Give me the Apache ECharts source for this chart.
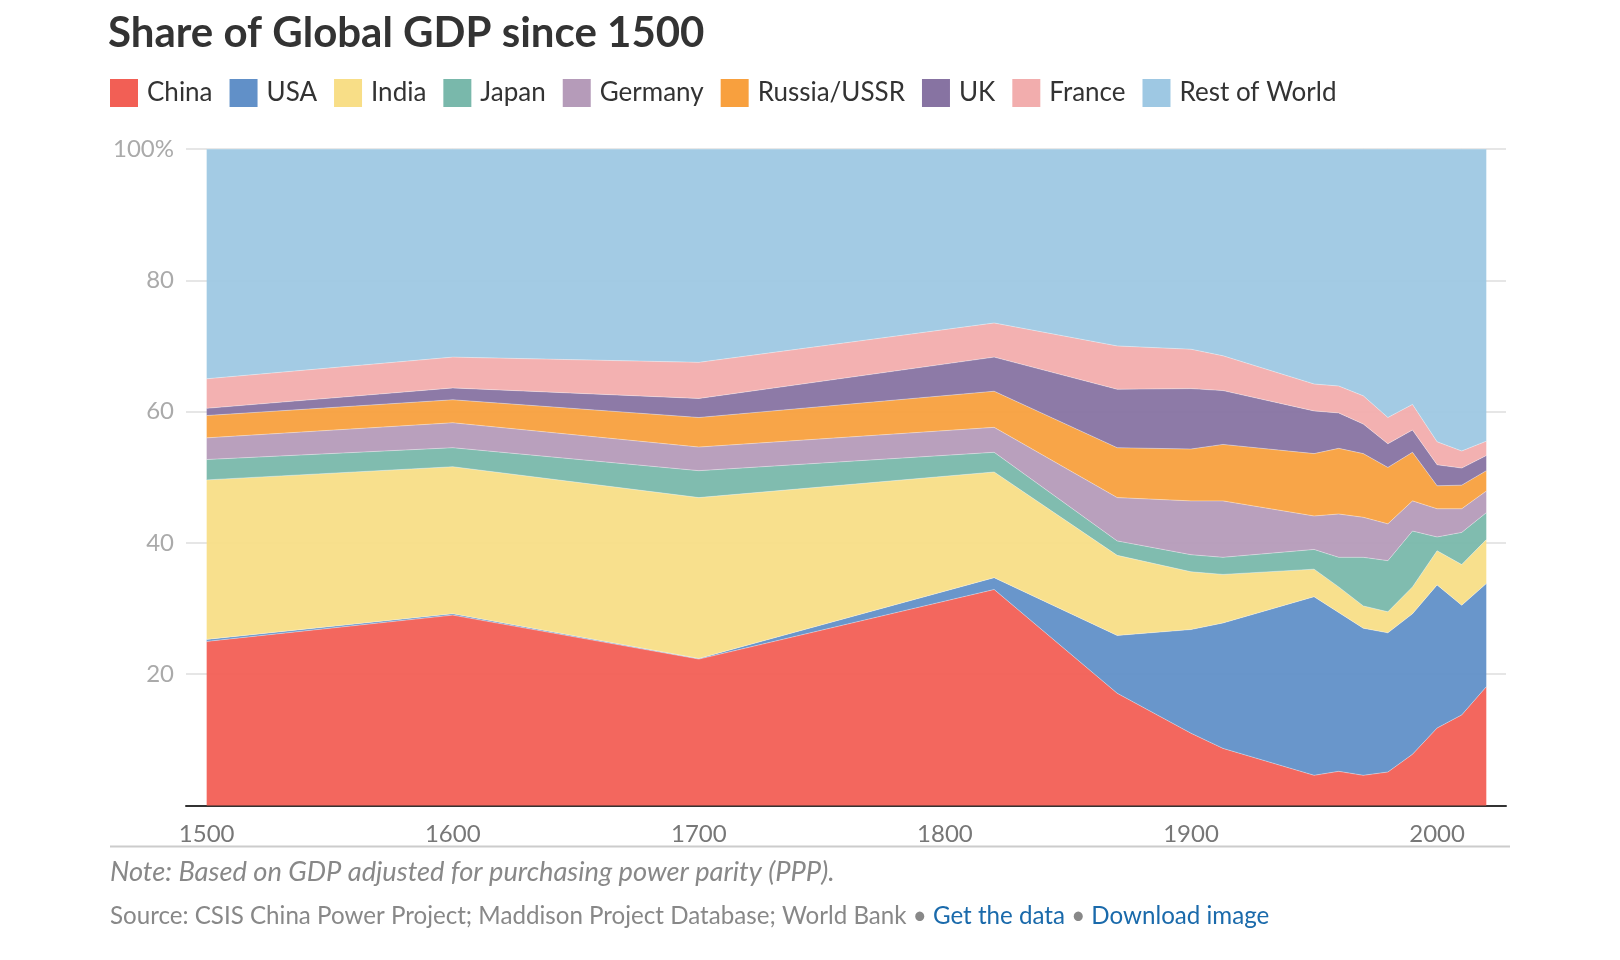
<!DOCTYPE html>
<html><head><meta charset="utf-8">
<script src="https://cdn.jsdelivr.net/npm/echarts@6/dist/echarts.min.js"></script>
<style>html,body{margin:0;padding:0;background:#fff}#c{width:1620px;height:960px}</style>
</head><body><div id="c"></div>
<script>
// ---- data (shares of global GDP, %) ----
const years   = [1500, 1600, 1700, 1820, 1870, 1900, 1913, 1950, 1960, 1970, 1980, 1990, 2000, 2010, 2020];
const china   = [25.0, 29.0, 22.3, 32.9, 17.1, 11.0, 8.7, 4.6, 5.2, 4.6, 5.1, 7.8, 11.8, 13.8, 18.1];
const usa     = [0.3, 0.2, 0.1, 1.8, 8.8, 15.8, 19.1, 27.2, 24.2, 22.4, 21.2, 21.4, 21.8, 16.7, 15.7];
const india   = [24.3, 22.4, 24.5, 16.1, 12.2, 8.8, 7.4, 4.2, 3.9, 3.4, 3.2, 4.1, 5.2, 6.2, 6.7];
const japan   = [3.1, 2.9, 4.1, 3.0, 2.2, 2.6, 2.6, 3.0, 4.5, 7.4, 7.8, 8.5, 2.1, 4.9, 4.1];
const germany = [3.3, 3.8, 3.6, 3.8, 6.6, 8.2, 8.6, 5.1, 6.6, 6.1, 5.6, 4.6, 4.3, 3.6, 3.3];
const russia  = [3.4, 3.5, 4.5, 5.5, 7.6, 7.9, 8.6, 9.5, 10.0, 9.7, 8.6, 7.4, 3.5, 3.6, 3.1];
const uk      = [1.1, 1.8, 2.9, 5.2, 8.9, 9.2, 8.2, 6.5, 5.4, 4.5, 3.6, 3.4, 3.2, 2.6, 2.3];
const france  = [4.5, 4.7, 5.5, 5.2, 6.6, 6.0, 5.3, 4.1, 4.1, 4.3, 4.0, 3.9, 3.5, 2.6, 2.2];
const restOfWorld = [35.0, 31.7, 32.5, 26.5, 30.0, 30.5, 31.5, 35.8, 36.1, 37.6, 40.9, 38.9, 44.6, 46.0, 44.5];
const seriesNames = ['China', 'USA', 'India', 'Japan', 'Germany', 'Russia/USSR', 'UK', 'France', 'Rest of World'];
const xTickLabels = [1500, 1600, 1700, 1800, 1900, 2000];

// ---- styles ----
const colors = ['#f25f55', '#6190c8', '#f8de87', '#79b8ab', '#b59bb9', '#f8a03e', '#8773a2', '#f2adad', '#9ec8e3'];
const FONT = 'Lato, "Source Sans Pro", "Noto Sans", sans-serif';
const seriesData = [china, usa, india, japan, germany, russia, uk, france, restOfWorld];

// x extent of the plot (in years)
const X_MIN = 1491.6, X_MAX = 2028;
// years -> timestamps (a hidden time axis lets stacking happen on the value axis)
const YEAR_MS = 365.2425 * 864e5;
const yearToTime = y => { const f = Math.floor(y); return Date.UTC(f, 0, 1) + (y - f) * YEAR_MS; };

const chart = echarts.init(document.getElementById('c'), null, { renderer: 'canvas' });
chart.setOption({
  animation: false,
  backgroundColor: '#fff',
  textStyle: { fontFamily: FONT },
  title: {
    text: 'Share of Global GDP since 1500',
    left: 108, top: 12, padding: 0,
    textStyle: { fontFamily: FONT, fontWeight: 'bold', fontSize: 42, color: '#333' }
  },
  legend: {
    data: seriesNames,
    left: 110, top: 79, padding: 0,
    icon: 'rect', itemWidth: 28, itemHeight: 28, itemGap: 17,
    textStyle: { fontFamily: FONT, fontSize: 26, color: '#333', padding: [0, 0, 0, 4] }
  },
  tooltip: { trigger: 'axis' },
  grid: { left: 186, right: 114, top: 149, bottom: 154.5, containLabel: false },
  xAxis: [
    { // hidden time axis used by the series
      type: 'time', min: yearToTime(X_MIN), max: yearToTime(X_MAX),
      show: false
    },
    { // visible year axis
      type: 'value', min: X_MIN, max: X_MAX, position: 'bottom',
      axisLine: { show: true, onZero: false, lineStyle: { color: '#333', width: 2 } },
      axisTick: { show: false },
      splitLine: { show: false },
      axisLabel: {
        customValues: xTickLabels,
        color: '#777', fontSize: 24, margin: 17, fontFamily: FONT,
        formatter: v => String(v)
      }
    }
  ],
  yAxis: {
    type: 'value', min: 0, max: 100, interval: 20,
    axisLine: { show: false }, axisTick: { show: false },
    splitLine: { show: true, lineStyle: { color: '#e6e6e6', width: 2 } },
    axisLabel: {
      color: '#aaa', fontSize: 24, margin: 12, fontFamily: FONT,
      formatter: v => v === 100 ? '100%' : (v === 0 ? '' : String(v))
    }
  },
  series: seriesNames.map((name, i) => ({
    name, type: 'line', stack: 'total', symbol: 'none', showSymbol: false,
    xAxisIndex: 0,
    color: colors[i],
    lineStyle: { width: 1, color: 'rgba(255,255,255,0.35)' },
    areaStyle: { color: colors[i], opacity: 0.95 },
    emphasis: { disabled: true },
    data: years.map((y, k) => [yearToTime(y), seriesData[i][k]])
  })),
  graphic: [
    { type: 'line', shape: { x1: 110, y1: 846.5, x2: 1510, y2: 846.5 }, style: { stroke: '#cccccc', lineWidth: 2 } },
    { type: 'text', left: 110, top: 859, style: {
        text: 'Note: Based on GDP adjusted for purchasing power parity (PPP).',
        fontFamily: FONT, fontStyle: 'italic', fontSize: 27.25, fill: '#888' } },
    { type: 'text', left: 110, top: 904, style: {
        text: '{g|Source: CSIS China Power Project; Maddison Project Database; World Bank • }{b|Get the data}{g| • }{b|Download image}',
        rich: {
          g: { fontFamily: FONT, fontSize: 24.15, fill: '#888', color: '#888' },
          b: { fontFamily: FONT, fontSize: 24.15, fill: '#1a6aab', color: '#1a6aab' }
        } } }
  ]
});
</script>
</body></html>
